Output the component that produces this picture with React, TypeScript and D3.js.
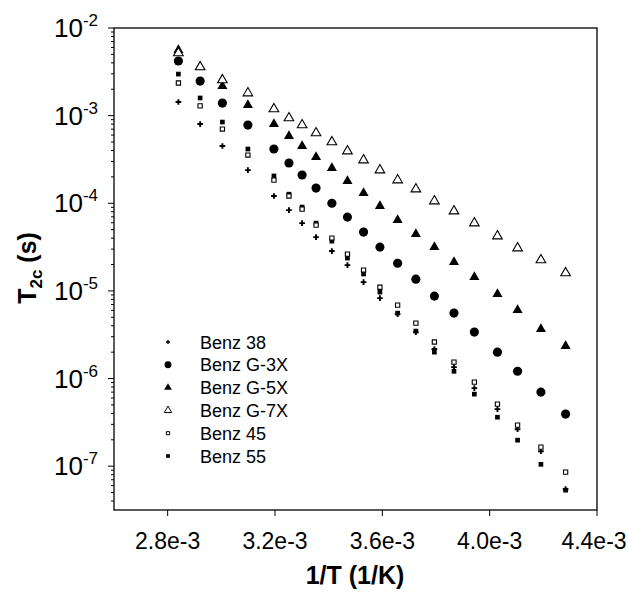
import React from "react";
import * as d3 from "d3";

// 1/T values (1/K), shared by all series
const invT = [
  2.840e-3, 2.921e-3, 3.004e-3, 3.099e-3, 3.196e-3, 3.252e-3, 3.301e-3, 3.353e-3,
  3.412e-3, 3.470e-3, 3.530e-3, 3.591e-3, 3.657e-3, 3.725e-3, 3.794e-3, 3.867e-3,
  3.943e-3, 4.029e-3, 4.104e-3, 4.191e-3, 4.283e-3,
];

const benz38 = [
  1.43e-3, 8.02e-4, 4.5e-4, 2.39e-4, 1.21e-4, 8.36e-5, 5.94e-5, 4.11e-5, 2.85e-5,
  1.97e-5, 1.26e-5, 8.28e-6, 5.43e-6, 3.39e-6, 2.17e-6, 1.35e-6, 7.77e-7, 4.48e-7,
  2.64e-7, 1.48e-7, 5.46e-8,
];
const benzG3X = [
  4.2e-3, 2.48e-3, 1.39e-3, 7.81e-4, 4.16e-4, 2.88e-4, 2.1e-4, 1.49e-4, 1.0e-4,
  6.95e-5, 4.69e-5, 3.16e-5, 2.07e-5, 1.36e-5, 8.72e-6, 5.58e-6, 3.39e-6, 2.0e-6,
  1.21e-6, 7.0e-7, 3.93e-7,
];
const benzG5X = [
  5.61e-3, 3.59e-3, 2.18e-3, 1.32e-3, 8.02e-4, 5.85e-4, 4.5e-4, 3.37e-4, 2.52e-4,
  1.79e-4, 1.31e-4, 9.29e-5, 6.43e-5, 4.45e-5, 3.16e-5, 2.13e-5, 1.44e-5, 9.19e-6,
  6.04e-6, 3.66e-6, 2.34e-6,
];
const benzG7X = [
  5.19e-3, 3.59e-3, 2.55e-3, 1.81e-3, 1.19e-3, 9.39e-4, 7.81e-4, 6.33e-4, 5.0e-4,
  3.94e-4, 3.11e-4, 2.39e-4, 1.84e-4, 1.45e-4, 1.06e-4, 8.14e-5, 5.94e-5, 4.22e-5,
  3.08e-5, 2.25e-5, 1.6e-5,
];
const benz45 = [
  2.36e-3, 1.29e-3, 7.03e-4, 3.55e-4, 1.84e-4, 1.21e-4, 8.59e-5, 5.64e-5, 4.01e-5,
  2.63e-5, 1.73e-5, 1.1e-5, 6.89e-6, 4.29e-6, 2.61e-6, 1.54e-6, 9.1e-7, 5.1e-7,
  2.94e-7, 1.65e-7, 8.55e-8,
];
const benz55 = [
  2.98e-3, 1.59e-3, 8.45e-4, 4.16e-4, 2.05e-4, 1.27e-4, 9.05e-5, 5.94e-5, 3.7e-5,
  2.37e-5, 1.56e-5, 9.69e-6, 5.58e-6, 3.48e-6, 2.0e-6, 1.21e-6, 6.64e-7, 3.62e-7,
  1.98e-7, 1.05e-7, 5.32e-8,
];

const seriesNames = ["Benz 38", "Benz G-3X", "Benz G-5X", "Benz G-7X", "Benz 45", "Benz 55"];
const seriesValues = [benz38, benzG3X, benzG5X, benzG7X, benz45, benz55];

const xTicks = [2.8e-3, 3.2e-3, 3.6e-3, 4.0e-3, 4.4e-3];
const xTickLabels = ["2.8e-3", "3.2e-3", "3.6e-3", "4.0e-3", "4.4e-3"];
const yDecades = [-7, -6, -5, -4, -3, -2];

type Style = { type: d3.SymbolType; size: number; legendSize: number; fill: string; stroke: string; sw: number };
const styles: Style[] = [
  { type: d3.symbolCross, size: 18, legendSize: 9, fill: "#000", stroke: "none", sw: 0 },
  { type: d3.symbolCircle, size: 66, legendSize: 38, fill: "#000", stroke: "none", sw: 0 },
  { type: d3.symbolTriangle, size: 44, legendSize: 26, fill: "#000", stroke: "none", sw: 0 },
  { type: d3.symbolTriangle, size: 40, legendSize: 24, fill: "#fff", stroke: "#000", sw: 1.1 },
  { type: d3.symbolSquare, size: 18, legendSize: 10, fill: "#fff", stroke: "#000", sw: 1.1 },
  { type: d3.symbolSquare, size: 22, legendSize: 14, fill: "#000", stroke: "none", sw: 0 },
];
// draw order so that open markers sit on top like the reference
const drawOrder = [2, 1, 5, 0, 4, 3];

export default function App() {
  const W = 629, H = 597;
  const x = d3.scaleLinear().domain([2.6e-3, 4.4e-3]).range([114, 597]);
  const y = d3.scaleLog().domain([Math.pow(10, -7.5), 1e-2]).range([510, 28]);
  const [x0, x1] = x.range();
  const [yb, yt] = y.range();

  const minorTicks: number[] = [];
  for (let e = -8; e <= -3; e++) {
    for (let m = 2; m <= 9; m++) {
      const v = m * Math.pow(10, e);
      if (v >= y.domain()[0] && v <= y.domain()[1]) minorTicks.push(v);
    }
  }

  const font = "'Liberation Sans', Arial, Helvetica, sans-serif";
  const legendY = d3.scaleLinear().domain([0, 5]).range([342, 456]);

  return (
    <svg width={W} height={H} style={{ position: "absolute", left: 0, top: 0, background: "#fff" }} fontFamily={font}>
      <rect x={0} y={0} width={W} height={H} fill="#fff" />
      {/* frame */}
      <rect x={x0} y={yt} width={x1 - x0} height={yb - yt} fill="none" stroke="#000" strokeWidth={1.3} />
      {/* x ticks */}
      {xTicks.map((t, i) => (
        <g key={"xt" + i}>
          <line x1={x(t)} x2={x(t)} y1={yb} y2={yb + 6} stroke="#000" strokeWidth={1} />
          <text x={Math.min(x(t), 594)} y={549} fontSize={23} textAnchor="middle">{xTickLabels[i]}</text>
        </g>
      ))}
      {/* y ticks */}
      {minorTicks.map((v, i) => (
        <line key={"ym" + i} x1={x0 - 3} x2={x0} y1={y(v)} y2={y(v)} stroke="#000" strokeWidth={1} />
      ))}
      {yDecades.map((e) => (
        <g key={"yd" + e}>
          <line x1={x0 - 6} x2={x0} y1={y(Math.pow(10, e))} y2={y(Math.pow(10, e))} stroke="#000" strokeWidth={1} />
          <text x={98} y={y(Math.pow(10, e)) + 9} fontSize={26} textAnchor="end">
            10<tspan fontSize={17} dy={-11}>{String(e)}</tspan>
          </text>
        </g>
      ))}
      {/* axis titles */}
      <text x={355} y={584} fontSize={25} fontWeight="bold" textAnchor="middle">1/T (1/K)</text>
      <text transform="translate(36,268) rotate(-90)" fontSize={25} fontWeight="bold" textAnchor="middle">
        T<tspan fontSize={17} dy={6}>2c</tspan><tspan dy={-6}> (s)</tspan>
      </text>
      {/* data */}
      {drawOrder.map((si) => {
        const st = styles[si];
        const path = d3.symbol().type(st.type).size(st.size)() as string;
        return (
          <g key={"s" + si}>
            {seriesValues[si].map((v, j) => (
              <path key={j} d={path} transform={`translate(${x(invT[j])},${y(v)})`} fill={st.fill}
                stroke={st.stroke} strokeWidth={st.sw} />
            ))}
          </g>
        );
      })}
      {/* legend */}
      {seriesNames.map((name, i) => {
        const st = styles[i];
        const path = d3.symbol().type(st.type).size(st.legendSize)() as string;
        const cy = legendY(i);
        return (
          <g key={"lg" + i}>
            <path d={path} transform={`translate(168,${cy})`} fill={st.fill} stroke={st.stroke} strokeWidth={st.sw * 0.9} />
            <text x={200} y={cy + 6.5} fontSize={18}>{name}</text>
          </g>
        );
      })}
    </svg>
  );
}
